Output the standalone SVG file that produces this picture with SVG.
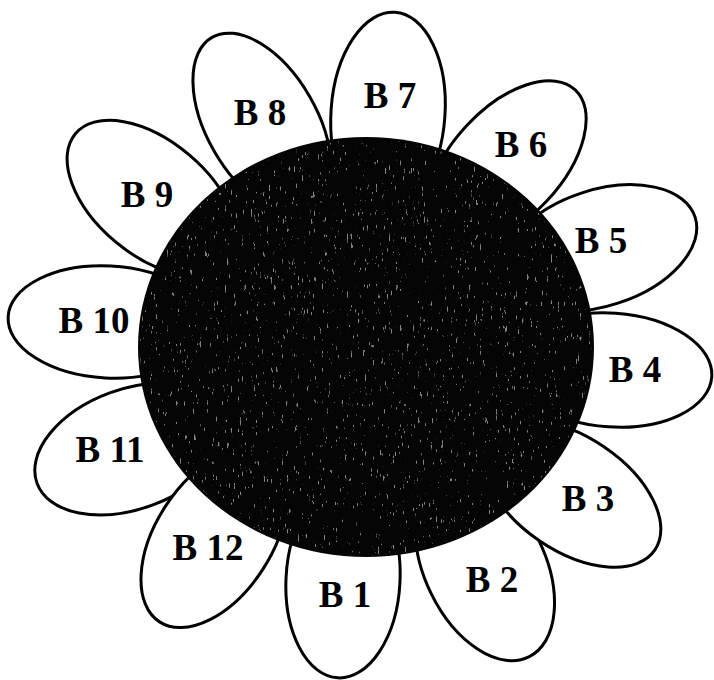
<svg xmlns="http://www.w3.org/2000/svg" width="714" height="680" viewBox="0 0 714 680">
<defs>
<filter id="speckle" x="0" y="0" width="100%" height="100%">
<feTurbulence type="fractalNoise" baseFrequency="0.55 0.12" numOctaves="3" seed="7" result="n"/>
<feColorMatrix in="n" type="matrix" values="0 0 0 0 1  0 0 0 0 1  0 0 0 0 1  16 0 0 0 -11.2" result="dots"/>
<feComposite in="dots" in2="SourceGraphic" operator="in"/>
</filter>
</defs>
<style>
.petal{fill:#fff;stroke:#000;stroke-width:3}
.lbl{font-family:"Liberation Serif","Times New Roman",serif;font-weight:bold;font-size:37px;fill:#000;text-anchor:middle}
.disk{fill:#050505}
.tex{fill:#fff;opacity:0.5;filter:url(#speckle)}
</style>
<rect width="714" height="680" fill="#fff"/>
<g id="petals">
<g id="B7"><ellipse class="petal" rx="101" ry="57" transform="translate(388,113) rotate(-86)"/><text class="lbl" x="390" y="108">B 7</text></g>
<g id="B8"><ellipse class="petal" rx="100" ry="55" transform="translate(262,124) rotate(-120)"/><text class="lbl" x="260" y="125">B 8</text></g>
<g id="B9"><ellipse class="petal" rx="100" ry="57" transform="translate(152,198) rotate(-140)"/><text class="lbl" x="147" y="207">B 9</text></g>
<g id="B10"><ellipse class="petal" rx="100" ry="56" transform="translate(108,322) rotate(-177)"/><text class="lbl" x="94" y="333">B 10</text></g>
<g id="B11"><ellipse class="petal" rx="100" ry="60" transform="translate(131,449) rotate(160)"/><text class="lbl" x="110" y="462">B 11</text></g>
<g id="B12"><ellipse class="petal" rx="100" ry="58" transform="translate(214,538) rotate(123)"/><text class="lbl" x="208" y="560">B 12</text></g>
<g id="B1"><ellipse class="petal" rx="98" ry="57" transform="translate(343,580) rotate(93)"/><text class="lbl" x="345" y="607">B 1</text></g>
<g id="B2"><ellipse class="petal" rx="100" ry="60" transform="translate(485,567) rotate(64)"/><text class="lbl" x="492" y="592">B 2</text></g>
<g id="B3"><ellipse class="petal" rx="100" ry="57" transform="translate(572,494) rotate(34)"/><text class="lbl" x="588" y="511">B 3</text></g>
<g id="B4"><ellipse class="petal" rx="100" ry="57" transform="translate(612,370) rotate(4)"/><text class="lbl" x="635" y="382">B 4</text></g>
<g id="B5"><ellipse class="petal" rx="100" ry="58" transform="translate(600,248) rotate(-18)"/><text class="lbl" x="601" y="253">B 5</text></g>
<g id="B6"><ellipse class="petal" rx="100" ry="55" transform="translate(507,163) rotate(-47)"/><text class="lbl" x="521" y="157">B 6</text></g>
</g>
<g id="disk">
<ellipse class="disk" cx="366" cy="347" rx="228" ry="210"/>
<ellipse class="tex" cx="366" cy="347" rx="226" ry="208"/>
</g>
</svg>
